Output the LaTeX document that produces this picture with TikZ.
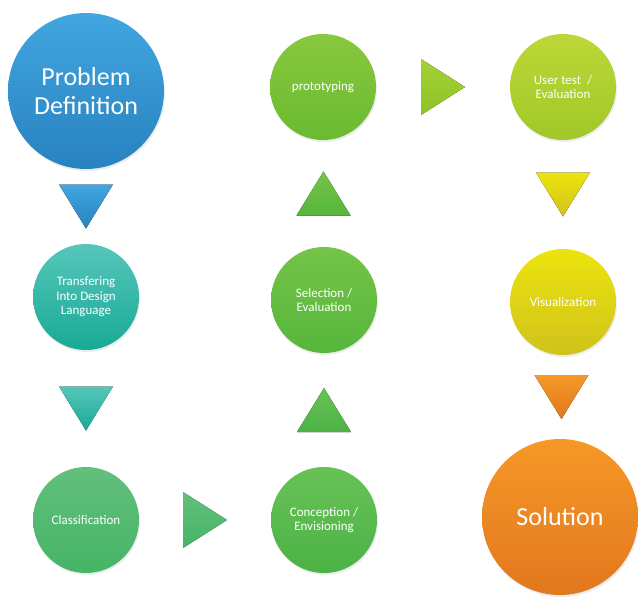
\documentclass[tikz,border=0pt]{standalone}
\usepackage{fontspec}
\setmainfont{Carlito}
\usetikzlibrary{calc,shadows}

\definecolor{blueT}{RGB}{66,166,224}
\definecolor{blueB}{RGB}{40,130,192}
\definecolor{tealT}{RGB}{86,198,186}
\definecolor{tealB}{RGB}{24,170,150}
\definecolor{mintT}{RGB}{98,192,124}
\definecolor{mintB}{RGB}{70,180,102}
\definecolor{grnT}{RGB}{104,194,86}
\definecolor{grnB}{RGB}{76,178,70}
\definecolor{leafT}{RGB}{116,196,72}
\definecolor{leafB}{RGB}{86,182,60}
\definecolor{limeT}{RGB}{136,200,60}
\definecolor{limeB}{RGB}{106,186,50}
\definecolor{pearT}{RGB}{166,208,52}
\definecolor{pearB}{RGB}{140,196,40}
\definecolor{ltT}{RGB}{188,216,56}
\definecolor{ltB}{RGB}{160,200,40}
\definecolor{yelT}{RGB}{236,228,14}
\definecolor{yelB}{RGB}{208,194,28}
\definecolor{orT}{RGB}{246,152,40}
\definecolor{orB}{RGB}{226,120,30}

\tikzset{
stage/.style={circle,inner sep=0pt,minimum size=106pt,align=center,text=white,
  font=\fontsize{13}{14.5}\selectfont,
  drop shadow={opacity=0.15,shadow xshift=1pt,shadow yshift=-2pt}},
bigstage/.style={stage,minimum size=156pt,font=\fontsize{26}{29}\selectfont},
}

\begin{document}
\begin{tikzpicture}[x=1pt,y=-1pt]
\useasboundingbox (0,0) rectangle (638,602);

\node [bigstage,top color=blueT,bottom color=blueB] (pd) at (86,91) {Problem\\Definition};
\node [stage,top color=tealT,bottom color=tealB] (tr) at (86,297) {Transfering\\Into Design\\Language};
\node [stage,top color=mintT,bottom color=mintB] (cl) at (86,520) {Classification};

\node [stage,top color=grnT,bottom color=grnB] (co) at (324,520) {Conception /\\Envisioning};
\node [stage,top color=leafT,bottom color=leafB] (se) at (324,300) {Selection /\\Evaluation};
\node [stage,top color=limeT,bottom color=limeB] (pr) at (323,87) {prototyping};

\node [stage,top color=ltT,bottom color=ltB] (ut) at (563,87) {User test \ /\\Evaluation};
\node [stage,top color=yelT,bottom color=yelB] (vi) at (563,302) {Visualization};
\node [bigstage,top color=orT,bottom color=orB] (so) at (560,517) {Solution};

% down
\foreach \a/\b/\col in {pd/tr/blue,tr/cl/teal,ut/vi/yel,vi/so/or} {
\fill [top color=\col T,bottom color=\col B] ($(\a.south)!0.5!(\b.north)$) ++(-27,-22) -- ++(54,0) -- ++(-27,44) -- cycle;
}
% up
\foreach \a/\b/\col in {co/se/grn,se/pr/leaf} {
\fill [top color=\col T,bottom color=\col B] ($(\a.north)!0.5!(\b.south)$) ++(-27,22) -- ++(54,0) -- ++(-27,-44) -- cycle;
}
% right
\foreach \a/\b/\col in {cl/co/mint,pr/ut/pear} {
\fill [top color=\col T,bottom color=\col B] ($(\a.east)!0.5!(\b.west)$) ++(-22,-28) -- ++(0,56) -- ++(44,-28) -- cycle;
}

\end{tikzpicture}
\end{document}
